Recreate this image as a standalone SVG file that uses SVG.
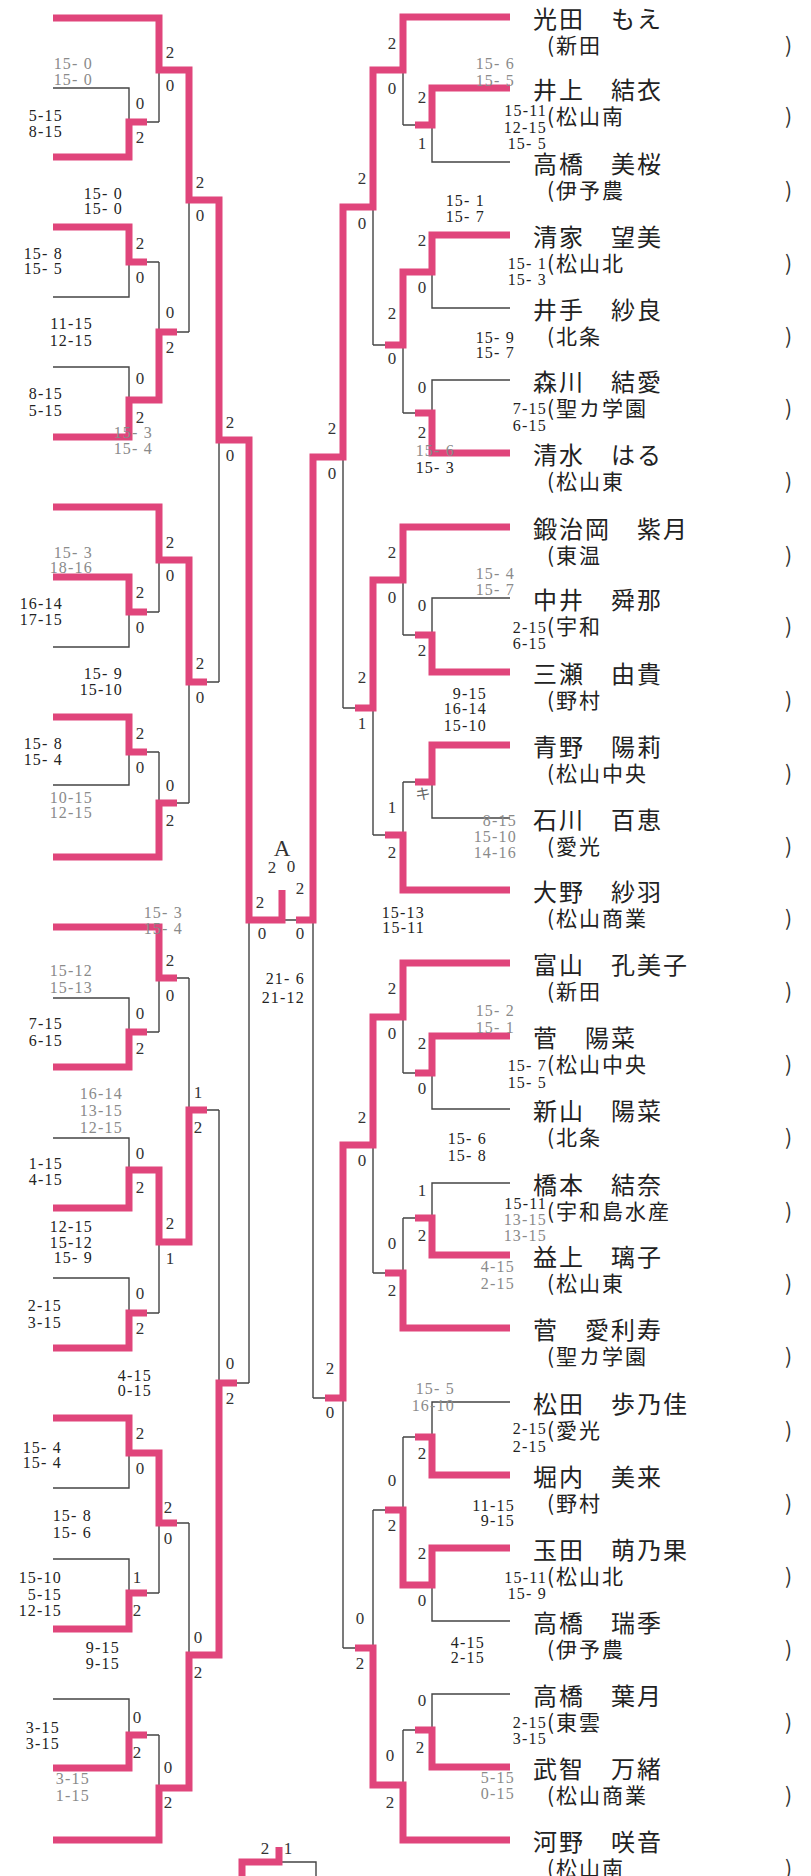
<svg xmlns="http://www.w3.org/2000/svg" width="811" height="1876" viewBox="0 0 811 1876" xml:space="preserve">
<style>
.t{fill:none;stroke:#444;stroke-width:1.4}
.p{fill:none;stroke:#E0457B;stroke-width:7;stroke-linejoin:miter}
.s{font-family:"Liberation Serif",serif;font-size:16px;fill:#222;text-anchor:end;letter-spacing:1.2px}
.g{fill:#8a8a8a}
.c{font-family:"Liberation Serif",serif;font-size:17px;fill:#333;text-anchor:middle}
.nm{font-family:"Noto Sans CJK JP",sans-serif;font-size:24px;letter-spacing:2px;fill:#222}
.sc{font-family:"Noto Sans CJK JP",sans-serif;font-size:21px;letter-spacing:2px;fill:#222}
.rp{font-family:"Noto Sans CJK JP",sans-serif;font-size:21px;fill:#333}
</style>
<rect width="811" height="1876" fill="#fff"/>
<g id="connectors">
<g id="thin-left">
<path class="t" d="M53,88 H129 V157 H53 M129,122 H159"/>
<path class="t" d="M53,227 H129 V297 H53 M129,262 H159"/>
<path class="t" d="M53,367 H129 V437 H53 M129,400 H159"/>
<path class="t" d="M53,577 H129 V647 H53 M129,612 H159"/>
<path class="t" d="M53,717 H129 V785 H53 M129,752 H159"/>
<path class="t" d="M53,998 H129 V1067 H53 M129,1032 H159"/>
<path class="t" d="M53,1138 H129 V1208 H53 M129,1170 H159"/>
<path class="t" d="M53,1278 H129 V1348 H53 M129,1313 H159"/>
<path class="t" d="M53,1418 H129 V1488 H53 M129,1453 H159"/>
<path class="t" d="M53,1559 H129 V1629 H53 M129,1593 H159"/>
<path class="t" d="M53,1699 H129 V1768 H53 M129,1735 H159"/>
<path class="t" d="M53,18 H159 V122 M159,70 H189"/>
<path class="t" d="M159,262 V400 M159,332 H189"/>
<path class="t" d="M53,507 H159 V612 M159,560 H189"/>
<path class="t" d="M159,752 V857 H53 M159,803 H189"/>
<path class="t" d="M53,927 H159 V1032 M159,978 H189"/>
<path class="t" d="M159,1170 V1313 M159,1242 H189"/>
<path class="t" d="M159,1453 V1593 M159,1523 H189"/>
<path class="t" d="M159,1735 V1840 H53 M159,1788 H189"/>
<path class="t" d="M189,70 V332 M189,200 H219"/>
<path class="t" d="M189,560 V803 M189,682 H219"/>
<path class="t" d="M189,978 V1242 M189,1110 H219"/>
<path class="t" d="M189,1523 V1788 M189,1655 H219"/>
<path class="t" d="M219,200 V682 M219,440 H249"/>
<path class="t" d="M219,1110 V1655 M219,1383 H249"/>
<path class="t" d="M249,440 V1383 M249,920 H313"/>
<path class="t" d="M279,1862 H316 V1876"/>
</g>
<g id="thin-right">
<path class="t" d="M510,88 H432 V162 H510 M432,125 H403"/>
<path class="t" d="M510,235 H432 V308 H510 M432,272 H403"/>
<path class="t" d="M510,380 H432 V453 H510 M432,413 H403"/>
<path class="t" d="M510,598 H432 V672 H510 M432,635 H403"/>
<path class="t" d="M510,745 H432 V818 H510 M432,782 H403"/>
<path class="t" d="M510,1036 H432 V1109 H510 M432,1073 H403"/>
<path class="t" d="M510,1183 H432 V1255 H510 M432,1218 H403"/>
<path class="t" d="M510,1402 H432 V1475 H510 M432,1437 H403"/>
<path class="t" d="M510,1548 H432 V1621 H510 M432,1585 H403"/>
<path class="t" d="M510,1694 H432 V1767 H510 M432,1730 H403"/>
<path class="t" d="M510,17 H403 V125 M403,70 H373"/>
<path class="t" d="M403,272 V413 M403,345 H373"/>
<path class="t" d="M510,527 H403 V635 M403,580 H373"/>
<path class="t" d="M403,782 V890 H510 M403,835 H373"/>
<path class="t" d="M510,963 H403 V1073 M403,1017 H373"/>
<path class="t" d="M403,1218 V1328 H510 M403,1273 H373"/>
<path class="t" d="M403,1437 V1585 M403,1510 H373"/>
<path class="t" d="M403,1730 V1840 H510 M403,1785 H373"/>
<path class="t" d="M373,70 V345 M373,207 H343"/>
<path class="t" d="M373,580 V835 M373,708 H343"/>
<path class="t" d="M373,1017 V1273 M373,1145 H343"/>
<path class="t" d="M373,1510 V1785 M373,1648 H343"/>
<path class="t" d="M343,207 V708 M343,457 H313"/>
<path class="t" d="M343,1145 V1648 M343,1398 H313"/>
<path class="t" d="M313,457 V1398"/>
</g>
<g id="pink-left">
<path class="p" d="M53,18 H159 V70 H189 V200 H219 V440 H249 V920 H282 V890"/>
<path class="p" d="M53,157 H129 V122 H147"/>
<path class="p" d="M53,227 H129 V262 H147"/>
<path class="p" d="M53,437 H129 V400 H159 V332 H177"/>
<path class="p" d="M53,507 H159 V560 H189 V682 H207"/>
<path class="p" d="M53,577 H129 V612 H147"/>
<path class="p" d="M53,717 H129 V752 H147"/>
<path class="p" d="M53,857 H159 V803 H177"/>
<path class="p" d="M53,927 H159 V978 H177"/>
<path class="p" d="M53,1067 H129 V1032 H147"/>
<path class="p" d="M53,1208 H129 V1170 H159 V1242 H189 V1110 H207"/>
<path class="p" d="M53,1348 H129 V1313 H147"/>
<path class="p" d="M53,1418 H129 V1453 H159 V1523 H177"/>
<path class="p" d="M53,1629 H129 V1593 H147"/>
<path class="p" d="M53,1768 H129 V1735 H147"/>
<path class="p" d="M53,1840 H159 V1788 H189 V1655 H219 V1383 H237"/>
<path class="p" d="M242,1880 V1862 H279 V1847"/>
</g>
<g id="pink-right">
<path class="p" d="M510,17 H403 V70 H373 V207 H343 V457 H313 V920 H296"/>
<path class="p" d="M510,88 H432 V125 H415"/>
<path class="p" d="M510,235 H432 V272 H403 V345 H385"/>
<path class="p" d="M510,453 H432 V413 H415"/>
<path class="p" d="M510,527 H403 V580 H373 V708 H355"/>
<path class="p" d="M510,672 H432 V635 H415"/>
<path class="p" d="M510,745 H432 V782 H415"/>
<path class="p" d="M510,890 H403 V835 H385"/>
<path class="p" d="M510,963 H403 V1017 H373 V1145 H343 V1398 H325"/>
<path class="p" d="M510,1036 H432 V1073 H415"/>
<path class="p" d="M510,1255 H432 V1218 H415"/>
<path class="p" d="M510,1328 H403 V1273 H385"/>
<path class="p" d="M510,1475 H432 V1437 H415"/>
<path class="p" d="M510,1548 H432 V1585 H403 V1510 H385"/>
<path class="p" d="M510,1767 H432 V1730 H415"/>
<path class="p" d="M510,1840 H403 V1785 H373 V1648 H355"/>
</g>
</g>
<g id="counts">
<text class="c" x="170" y="58">2</text><text class="c" x="170" y="91">0</text>
<text class="c" x="140" y="109">0</text><text class="c" x="140" y="143">2</text>
<text class="c" x="200" y="188">2</text><text class="c" x="200" y="221">0</text>
<text class="c" x="140" y="249">2</text><text class="c" x="140" y="283">0</text>
<text class="c" x="170" y="318">0</text><text class="c" x="170" y="353">2</text>
<text class="c" x="140" y="384">0</text><text class="c" x="140" y="423">2</text>
<text class="c" x="230" y="428">2</text><text class="c" x="230" y="461">0</text>
<text class="c" x="170" y="548">2</text><text class="c" x="170" y="581">0</text>
<text class="c" x="140" y="598">2</text><text class="c" x="140" y="633">0</text>
<text class="c" x="200" y="669">2</text><text class="c" x="200" y="703">0</text>
<text class="c" x="140" y="739">2</text><text class="c" x="140" y="773">0</text>
<text class="c" x="170" y="791">0</text><text class="c" x="170" y="826">2</text>
<text class="c" x="170" y="966">2</text><text class="c" x="170" y="1001">0</text>
<text class="c" x="140" y="1019">0</text><text class="c" x="140" y="1054">2</text>
<text class="c" x="198" y="1098">1</text><text class="c" x="198" y="1133">2</text>
<text class="c" x="140" y="1159">0</text><text class="c" x="140" y="1193">2</text>
<text class="c" x="170" y="1229">2</text><text class="c" x="170" y="1264">1</text>
<text class="c" x="140" y="1299">0</text><text class="c" x="140" y="1334">2</text>
<text class="c" x="230" y="1369">0</text><text class="c" x="230" y="1404">2</text>
<text class="c" x="140" y="1439">2</text><text class="c" x="140" y="1474">0</text>
<text class="c" x="168" y="1513">2</text><text class="c" x="168" y="1544">0</text>
<text class="c" x="137" y="1583">1</text><text class="c" x="137" y="1616">2</text>
<text class="c" x="198" y="1643">0</text><text class="c" x="198" y="1678">2</text>
<text class="c" x="137" y="1723">0</text><text class="c" x="137" y="1758">2</text>
<text class="c" x="168" y="1773">0</text><text class="c" x="168" y="1808">2</text>
<text class="c" x="260" y="908">2</text><text class="c" x="262" y="939">0</text>
<text class="c" x="300" y="894">2</text><text class="c" x="300" y="939">0</text>
<text class="c" x="282" y="856" style="font-size:23px">A</text>
<text class="c" x="272" y="873">2</text><text class="c" x="291" y="872">0</text>
<text class="c" x="265" y="1854">2</text><text class="c" x="288" y="1854">1</text>
<text class="c" x="392" y="49">2</text><text class="c" x="392" y="94">0</text>
<text class="c" x="422" y="103">2</text><text class="c" x="422" y="149">1</text>
<text class="c" x="362" y="184">2</text><text class="c" x="362" y="229">0</text>
<text class="c" x="422" y="246">2</text><text class="c" x="422" y="293">0</text>
<text class="c" x="392" y="319">2</text><text class="c" x="392" y="364">0</text>
<text class="c" x="422" y="393">0</text><text class="c" x="422" y="438">2</text>
<text class="c" x="332" y="434">2</text><text class="c" x="332" y="479">0</text>
<text class="c" x="392" y="558">2</text><text class="c" x="392" y="603">0</text>
<text class="c" x="422" y="611">0</text><text class="c" x="422" y="656">2</text>
<text class="c" x="362" y="683">2</text><text class="c" x="362" y="729">1</text>
<text x="423" y="799" style="font-family:'Noto Sans CJK JP',sans-serif;font-size:15px;fill:#666;text-anchor:middle">キ</text>
<text class="c" x="392" y="813">1</text><text class="c" x="392" y="858">2</text>
<text class="c" x="392" y="994">2</text><text class="c" x="392" y="1039">0</text>
<text class="c" x="422" y="1049">2</text><text class="c" x="422" y="1094">0</text>
<text class="c" x="362" y="1123">2</text><text class="c" x="362" y="1166">0</text>
<text class="c" x="422" y="1196">1</text><text class="c" x="422" y="1241">2</text>
<text class="c" x="392" y="1249">0</text><text class="c" x="392" y="1296">2</text>
<text class="c" x="330" y="1374">2</text><text class="c" x="330" y="1418">0</text>
<text class="c" x="422" y="1459">2</text>
<text class="c" x="392" y="1486">0</text><text class="c" x="392" y="1531">2</text>
<text class="c" x="422" y="1559">2</text><text class="c" x="422" y="1606">0</text>
<text class="c" x="360" y="1624">0</text><text class="c" x="360" y="1669">2</text>
<text class="c" x="422" y="1706">0</text><text class="c" x="420" y="1753">2</text>
<text class="c" x="390" y="1761">0</text><text class="c" x="390" y="1808">2</text>
</g>
<g id="scores">
<text class="s g" x="93" y="69">15- 0</text><text class="s g" x="93" y="85">15- 0</text>
<text class="s" x="63" y="121">5-15</text><text class="s" x="63" y="137">8-15</text>
<text class="s" x="123" y="199">15- 0</text><text class="s" x="123" y="214">15- 0</text>
<text class="s" x="63" y="259">15- 8</text><text class="s" x="63" y="274">15- 5</text>
<text class="s" x="93" y="329">11-15</text><text class="s" x="93" y="346">12-15</text>
<text class="s" x="63" y="399">8-15</text><text class="s" x="63" y="416">5-15</text>
<text class="s g" x="153" y="438">15- 3</text><text class="s g" x="153" y="454">15- 4</text>
<text class="s g" x="93" y="558">15- 3</text><text class="s g" x="93" y="573">18-16</text>
<text class="s" x="63" y="609">16-14</text><text class="s" x="63" y="625">17-15</text>
<text class="s" x="123" y="679">15- 9</text><text class="s" x="123" y="695">15-10</text>
<text class="s" x="63" y="749">15- 8</text><text class="s" x="63" y="765">15- 4</text>
<text class="s g" x="93" y="803">10-15</text><text class="s g" x="93" y="818">12-15</text>
<text class="s g" x="183" y="918">15- 3</text><text class="s g" x="183" y="934">15- 4</text>
<text class="s g" x="93" y="976">15-12</text><text class="s g" x="93" y="993">15-13</text>
<text class="s" x="63" y="1029">7-15</text><text class="s" x="63" y="1046">6-15</text>
<text class="s g" x="123" y="1099">16-14</text><text class="s g" x="123" y="1116">13-15</text><text class="s g" x="123" y="1133">12-15</text>
<text class="s" x="63" y="1169">1-15</text><text class="s" x="63" y="1185">4-15</text>
<text class="s" x="93" y="1232">12-15</text><text class="s" x="93" y="1248">15-12</text><text class="s" x="93" y="1263">15- 9</text>
<text class="s" x="62" y="1311">2-15</text><text class="s" x="62" y="1328">3-15</text>
<text class="s" x="152" y="1381">4-15</text><text class="s" x="152" y="1396">0-15</text>
<text class="s" x="62" y="1453">15- 4</text><text class="s" x="62" y="1468">15- 4</text>
<text class="s" x="92" y="1521">15- 8</text><text class="s" x="92" y="1538">15- 6</text>
<text class="s" x="62" y="1583">15-10</text><text class="s" x="62" y="1600">5-15</text><text class="s" x="62" y="1616">12-15</text>
<text class="s" x="120" y="1653">9-15</text><text class="s" x="120" y="1669">9-15</text>
<text class="s" x="60" y="1733">3-15</text><text class="s" x="60" y="1749">3-15</text>
<text class="s g" x="90" y="1784">3-15</text><text class="s g" x="90" y="1801">1-15</text>
<text class="s" x="305" y="984">21- 6</text><text class="s" x="305" y="1003">21-12</text>
<text class="s g" x="515" y="69">15- 6</text><text class="s g" x="515" y="86">15- 5</text>
<text class="s" x="547" y="116">15-11</text><text class="s" x="547" y="133">12-15</text><text class="s" x="547" y="149">15- 5</text>
<text class="s" x="485" y="206">15- 1</text><text class="s" x="485" y="222">15- 7</text>
<text class="s" x="547" y="269">15- 1</text><text class="s" x="547" y="285">15- 3</text>
<text class="s" x="515" y="343">15- 9</text><text class="s" x="515" y="358">15- 7</text>
<text class="s" x="547" y="414">7-15</text><text class="s" x="547" y="431">6-15</text>
<text class="s g" x="455" y="456">15- 6</text><text class="s" x="455" y="473">15- 3</text>
<text class="s g" x="515" y="579">15- 4</text><text class="s g" x="515" y="595">15- 7</text>
<text class="s" x="547" y="633">2-15</text><text class="s" x="547" y="649">6-15</text>
<text class="s" x="487" y="699">9-15</text><text class="s" x="487" y="714">16-14</text><text class="s" x="487" y="731">15-10</text>
<text class="s g" x="517" y="826">8-15</text><text class="s g" x="517" y="842">15-10</text><text class="s g" x="517" y="858">14-16</text>
<text class="s" x="425" y="918">15-13</text><text class="s" x="425" y="933">15-11</text>
<text class="s g" x="515" y="1016">15- 2</text><text class="s g" x="515" y="1033">15- 1</text>
<text class="s" x="547" y="1071">15- 7</text><text class="s" x="547" y="1088">15- 5</text>
<text class="s" x="487" y="1144">15- 6</text><text class="s" x="487" y="1161">15- 8</text>
<text class="s" x="547" y="1209">15-11</text><text class="s g" x="547" y="1225">13-15</text><text class="s g" x="547" y="1241">13-15</text>
<text class="s g" x="515" y="1272">4-15</text><text class="s g" x="515" y="1289">2-15</text>
<text class="s g" x="455" y="1394">15- 5</text><text class="s g" x="455" y="1411">16-10</text>
<text class="s" x="547" y="1434">2-15</text><text class="s" x="547" y="1452">2-15</text>
<text class="s" x="515" y="1511">11-15</text><text class="s" x="515" y="1526">9-15</text>
<text class="s" x="547" y="1583">15-11</text><text class="s" x="547" y="1599">15- 9</text>
<text class="s" x="485" y="1648">4-15</text><text class="s" x="485" y="1663">2-15</text>
<text class="s" x="547" y="1728">2-15</text><text class="s" x="547" y="1744">3-15</text>
<text class="s g" x="515" y="1783">5-15</text><text class="s g" x="515" y="1799">0-15</text>
</g>
<g id="p1"><text class="nm" x="533" y="28">光田　もえ</text><text class="sc" x="547" y="53">(新田</text><text class="rp" x="785" y="53">)</text></g>
<g id="p2"><text class="nm" x="533" y="99">井上　結衣</text><text class="sc" x="547" y="124">(松山南</text><text class="rp" x="785" y="124">)</text></g>
<g id="p3"><text class="nm" x="533" y="173">高橋　美桜</text><text class="sc" x="547" y="198">(伊予農</text><text class="rp" x="785" y="198">)</text></g>
<g id="p4"><text class="nm" x="533" y="246">清家　望美</text><text class="sc" x="547" y="271">(松山北</text><text class="rp" x="785" y="271">)</text></g>
<g id="p5"><text class="nm" x="533" y="319">井手　紗良</text><text class="sc" x="547" y="344">(北条</text><text class="rp" x="785" y="344">)</text></g>
<g id="p6"><text class="nm" x="533" y="391">森川　結愛</text><text class="sc" x="547" y="416">(聖カ学園</text><text class="rp" x="785" y="416">)</text></g>
<g id="p7"><text class="nm" x="533" y="464">清水　はる</text><text class="sc" x="547" y="489">(松山東</text><text class="rp" x="785" y="489">)</text></g>
<g id="p8"><text class="nm" x="533" y="538">鍛治岡　紫月</text><text class="sc" x="547" y="563">(東温</text><text class="rp" x="785" y="563">)</text></g>
<g id="p9"><text class="nm" x="533" y="609">中井　舜那</text><text class="sc" x="547" y="634">(宇和</text><text class="rp" x="785" y="634">)</text></g>
<g id="p10"><text class="nm" x="533" y="683">三瀬　由貴</text><text class="sc" x="547" y="708">(野村</text><text class="rp" x="785" y="708">)</text></g>
<g id="p11"><text class="nm" x="533" y="756">青野　陽莉</text><text class="sc" x="547" y="781">(松山中央</text><text class="rp" x="785" y="781">)</text></g>
<g id="p12"><text class="nm" x="533" y="829">石川　百恵</text><text class="sc" x="547" y="854">(愛光</text><text class="rp" x="785" y="854">)</text></g>
<g id="p13"><text class="nm" x="533" y="901">大野　紗羽</text><text class="sc" x="547" y="926">(松山商業</text><text class="rp" x="785" y="926">)</text></g>
<g id="p14"><text class="nm" x="533" y="974">富山　孔美子</text><text class="sc" x="547" y="999">(新田</text><text class="rp" x="785" y="999">)</text></g>
<g id="p15"><text class="nm" x="533" y="1047">菅　陽菜</text><text class="sc" x="547" y="1072">(松山中央</text><text class="rp" x="785" y="1072">)</text></g>
<g id="p16"><text class="nm" x="533" y="1120">新山　陽菜</text><text class="sc" x="547" y="1145">(北条</text><text class="rp" x="785" y="1145">)</text></g>
<g id="p17"><text class="nm" x="533" y="1194">橋本　結奈</text><text class="sc" x="547" y="1219">(宇和島水産</text><text class="rp" x="785" y="1219">)</text></g>
<g id="p18"><text class="nm" x="533" y="1266">益上　璃子</text><text class="sc" x="547" y="1291">(松山東</text><text class="rp" x="785" y="1291">)</text></g>
<g id="p19"><text class="nm" x="533" y="1339">菅　愛利寿</text><text class="sc" x="547" y="1364">(聖カ学園</text><text class="rp" x="785" y="1364">)</text></g>
<g id="p20"><text class="nm" x="533" y="1413">松田　歩乃佳</text><text class="sc" x="547" y="1438">(愛光</text><text class="rp" x="785" y="1438">)</text></g>
<g id="p21"><text class="nm" x="533" y="1486">堀内　美来</text><text class="sc" x="547" y="1511">(野村</text><text class="rp" x="785" y="1511">)</text></g>
<g id="p22"><text class="nm" x="533" y="1559">玉田　萌乃果</text><text class="sc" x="547" y="1584">(松山北</text><text class="rp" x="785" y="1584">)</text></g>
<g id="p23"><text class="nm" x="533" y="1632">高橋　瑞季</text><text class="sc" x="547" y="1657">(伊予農</text><text class="rp" x="785" y="1657">)</text></g>
<g id="p24"><text class="nm" x="533" y="1705">高橋　葉月</text><text class="sc" x="547" y="1730">(東雲</text><text class="rp" x="785" y="1730">)</text></g>
<g id="p25"><text class="nm" x="533" y="1778">武智　万緒</text><text class="sc" x="547" y="1803">(松山商業</text><text class="rp" x="785" y="1803">)</text></g>
<g id="p26"><text class="nm" x="533" y="1851">河野　咲音</text><text class="sc" x="547" y="1876">(松山南</text><text class="rp" x="785" y="1876">)</text></g>
</svg>
